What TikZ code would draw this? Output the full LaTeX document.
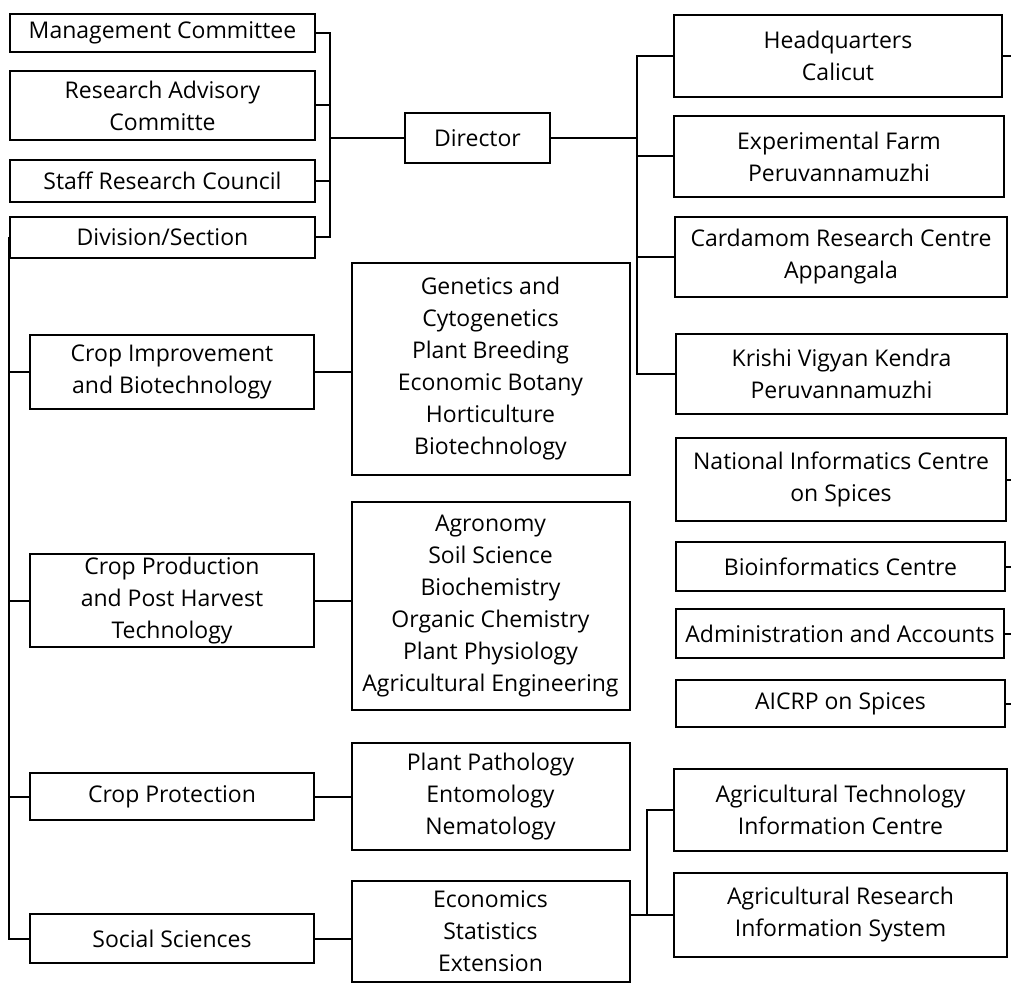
\documentclass[tikz,border=0pt]{standalone}
\usepackage{fontspec}
\setmainfont{Open Sans}
\usetikzlibrary{positioning}
\tikzset{
  box/.style={draw,line width=2pt,inner sep=0pt,align=center,
    font=\fontsize{23}{32}\selectfont},
  link/.style={line width=2pt}
}
\begin{document}
\begin{tikzpicture}[x=1pt,y=-1pt]
  \useasboundingbox (0,0) rectangle (1011,984);
  % committees on the left
  \foreach \n/\y/\h/\t in {mgmt/33/38/Management Committee,rac/105.5/69/{Research Advisory\\Committe},
    src/181/42/Staff Research Council,div/237.5/41/{Division/Section}}{
    \node[box,minimum width=305pt,minimum height=\h pt] (\n) at (162.5,\y) {\t};
  }
  \node[box,minimum width=145pt,minimum height=50pt] (dir) at (477.5,138) {Director};
  % units under the director
  \foreach \n/\x/\y/\w/\h/\t in {hq/838/56/328/82/{Headquarters\\Calicut},ef/839/156.5/330/81/{Experimental Farm\\Peruvannamuzhi},
    crc/841/257/332/80/{Cardamom Research Centre\\Appangala},kvk/841.5/374/331/80/{Krishi Vigyan Kendra\\Peruvannamuzhi},
    nic/841/479.5/330/83/{National Informatics Centre\\on Spices},bio/840.5/566.5/329/49/Bioinformatics Centre,
    adm/840/633.5/328/49/Administration and Accounts,aicrp/840.5/703.5/329/47/AICRP on Spices,
    atic/840.5/810/333/82/{Agricultural Technology\\Information Centre},aris/840.5/915/333/84/{Agricultural Research\\Information System}}{
    \node[box,minimum width=\w pt,minimum height=\h pt] (\n) at (\x,\y) {\t};
  }
  % divisions and their sections
  \foreach \n/\y/\h/\t in {ci/372/74/{Crop Improvement\\and Biotechnology},cp/600.5/93/{Crop Production\\and Post Harvest\\Technology},
    cpr/796.5/47/Crop Protection,ss/938.5/49/Social Sciences}{
    \node[box,minimum width=284pt,minimum height=\h pt] (\n) at (172,\y) {\t};
  }
  \foreach \n/\y/\h/\t in {gen/369/212/{Genetics and\\Cytogenetics\\Plant Breeding\\Economic Botany\\Horticulture\\Biotechnology},
    agr/606/208/{Agronomy\\Soil Science\\Biochemistry\\Organic Chemistry\\Plant Physiology\\Agricultural Engineering},
    pp/796.5/107/{Plant Pathology\\Entomology\\Nematology},eco/931.5/101/{Economics\\Statistics\\Extension}}{
    \node[box,minimum width=278pt,minimum height=\h pt] (\n) at (490.5,\y) {\t};
  }
  \coordinate (jc) at (330,0);
  \coordinate (jd) at (637,0);
  \coordinate (jl) at (9,0);
  \coordinate (je) at (647,0);
  \coordinate (edge) at (1011,0);
  % connectors
  \draw[link] (mgmt.east) -| (jc |- div.east) -- (div.east);
  \foreach \n in {rac,src}{
    \draw[link] (\n.east) -- (\n.east -| jc);
  }
  \draw[link] (jc |- dir.west) -- (dir.west);
  \draw[link] (dir.east) -- (dir.east -| jd);
  \draw[link] (hq.west) -| (jd |- kvk.west) -- (kvk.west);
  \foreach \n in {ef,crc}{
    \draw[link] (\n.west) -- (\n.west -| jd);
  }
  \foreach \n in {hq,nic,bio,adm,aicrp}{
    \draw[link] (\n.east) -- (\n.east -| edge);
  }
  \draw[link] (jl |- div.west) -- (jl |- ss.west) -- (ss.west);
  \foreach \n in {ci,cp,cpr}{
    \draw[link] (\n.west) -- (\n.west -| jl);
  }
  \draw[link] (ci.east) -- (ci.east -| gen.west);
  \draw[link] (cp.east) -- (cp.east -| agr.west);
  \draw[link] (cpr.east) -- (pp.west);
  \draw[link] (ss.east) -- (ss.east -| eco.west);
  \draw[link] (aris.west) -- (aris.west -| eco.east);
  \draw[link] (atic.west) -| (je |- aris.west);
\end{tikzpicture}
\end{document}
